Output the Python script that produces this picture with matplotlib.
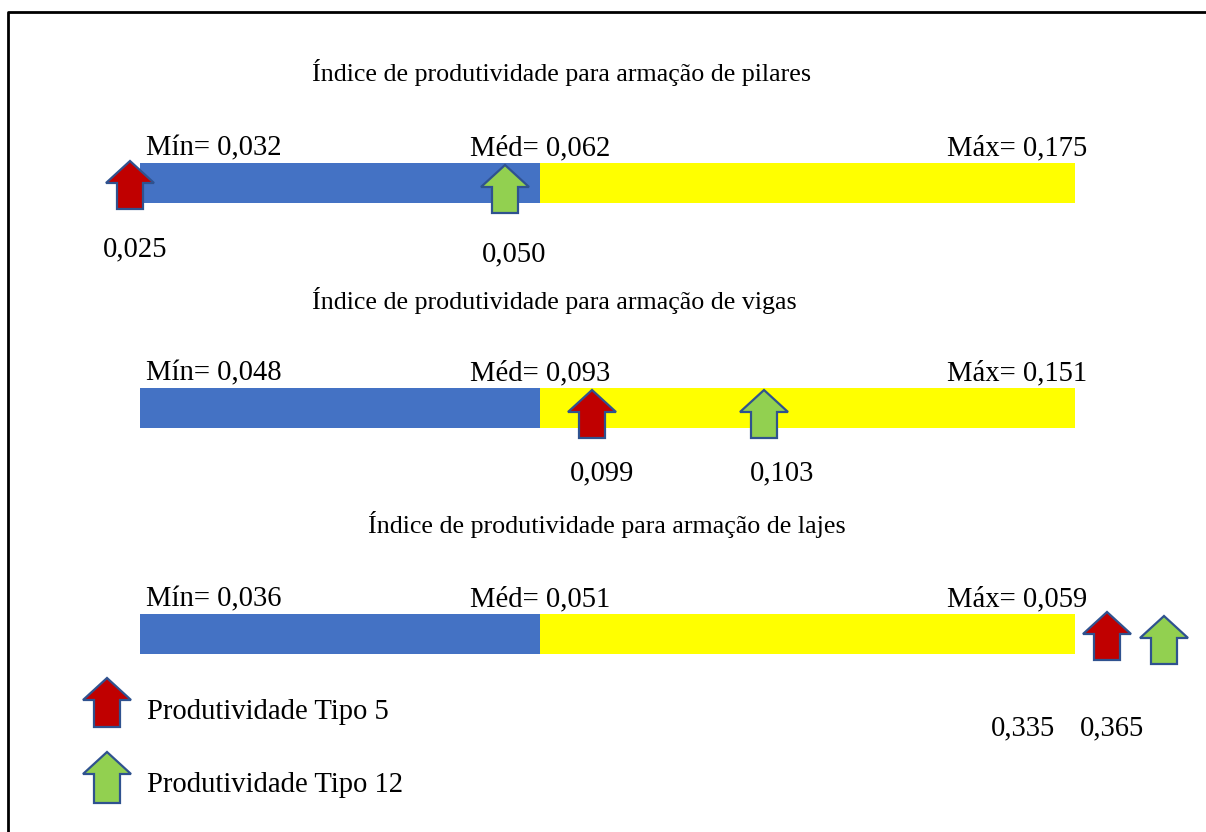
import matplotlib
matplotlib.use("Agg")
import matplotlib.pyplot as plt
from matplotlib.patches import Polygon, Rectangle

plt.rcParams['font.family'] = ['Liberation Serif', 'DejaVu Serif']

# dados
titulos = ["Índice de produtividade para armação de pilares",
           "Índice de produtividade para armação de vigas",
           "Índice de produtividade para armação de lajes"]
minimos = [0.032, 0.048, 0.036]
medios = [0.062, 0.093, 0.051]
maximos = [0.175, 0.151, 0.059]
tipo5 = [0.025, 0.099, 0.335]
tipo12 = [0.050, 0.103, 0.365]
legenda = ["Produtividade Tipo 5", "Produtividade Tipo 12"]

# layout (pixels)
bar_top = [163, 388, 614]
title_y = [72, 300, 525]
title_x = [562, 554, 607]
x5 = [130, 592, 1107]
x12 = [505, 764, 1164]
lab5 = [(135, 249), (602, 473), (1023, 728)]
lab12 = [(514, 254), (782, 473), (1112, 728)]
x_ini, x_med, x_fim = 140, 540, 1075
bar_h = 40

RED = '#C00000'
GREEN = '#92D050'
EDGE = '#2F528F'
FS_T = 18.7
FS = 20.6


def fmt(v):
    return f"{v:.3f}".replace('.', ',')


def seta(ax, xc, tip, cor, h=48, w=48, sw=26, hh=22):
    pts = [(xc, tip), (xc + w / 2, tip + hh), (xc + sw / 2, tip + hh),
           (xc + sw / 2, tip + h), (xc - sw / 2, tip + h),
           (xc - sw / 2, tip + hh), (xc - w / 2, tip + hh)]
    ax.add_patch(Polygon(pts, closed=True, facecolor=cor, edgecolor=EDGE,
                         lw=1.6, zorder=3))


fig = plt.figure(figsize=(12.06, 8.32), dpi=100)
ax = fig.add_axes([0, 0, 1, 1])
ax.set_xlim(0, 1206)
ax.set_ylim(832, 0)
ax.axis('off')

# moldura
ax.plot([7.5, 7.5, 1206], [832, 11.5, 11.5], color='k', lw=2, zorder=1)

for i in range(3):
    y0 = bar_top[i]
    ax.text(title_x[i], title_y[i], titulos[i], fontsize=FS_T, ha='center', va='center')
    ax.add_patch(Rectangle((x_ini, y0), x_med - x_ini, bar_h, facecolor='#4472C4', lw=0, zorder=2))
    ax.add_patch(Rectangle((x_med, y0), x_fim - x_med, bar_h, facecolor='#FFFF00', lw=0, zorder=2))
    ax.text(146, y0 - 8, "Mín= " + fmt(minimos[i]), fontsize=FS, ha='left', va='baseline')
    ax.text(470, y0 - 8, "Méd= " + fmt(medios[i]), fontsize=FS, ha='left', va='baseline')
    ax.text(947, y0 - 8, "Máx= " + fmt(maximos[i]), fontsize=FS, ha='left', va='baseline')
    seta(ax, x5[i], y0 - 2 + (4 if i == 1 else 0), RED)
    seta(ax, x12[i], y0 + 2, GREEN)
    ax.text(lab5[i][0], lab5[i][1], fmt(tipo5[i]), fontsize=FS, ha='center', va='center')
    ax.text(lab12[i][0], lab12[i][1], fmt(tipo12[i]), fontsize=FS, ha='center', va='center')

# legenda
seta(ax, 107, 678, RED, h=49)
ax.text(147, 712, legenda[0], fontsize=FS, ha='left', va='center')
seta(ax, 107, 752, GREEN, h=51)
ax.text(147, 785, legenda[1], fontsize=FS, ha='left', va='center')

fig.savefig('out.png', dpi=100)
